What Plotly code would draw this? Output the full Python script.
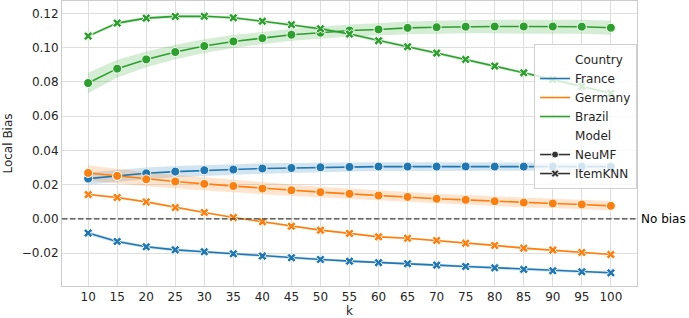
import plotly.graph_objects as go

k = [10, 15, 20, 25, 30, 35, 40, 45, 50, 55, 60, 65, 70, 75, 80, 85, 90, 95, 100]

france_neumf = [0.0235, 0.0251, 0.0266, 0.0276, 0.0284, 0.0288, 0.0294, 0.0297, 0.0301, 0.0303, 0.0305, 0.0305, 0.0305, 0.0306, 0.0305, 0.0305, 0.0305, 0.0305, 0.0305]
france_neumf_ci = [0.0035, 0.0035, 0.0034, 0.0033, 0.0032, 0.0031, 0.0030, 0.0029, 0.0028, 0.0027, 0.0026, 0.0025, 0.0025, 0.0024, 0.0024, 0.0023, 0.0023, 0.0023, 0.0023]
france_itemknn = [-0.0083, -0.0132, -0.0163, -0.0181, -0.0192, -0.0204, -0.0217, -0.0227, -0.0237, -0.0247, -0.0256, -0.0262, -0.0270, -0.0278, -0.0286, -0.0295, -0.0303, -0.0309, -0.0315]
france_itemknn_ci = [0.0011, 0.0010, 0.0009, 0.0009, 0.0008, 0.0008, 0.0008, 0.0008, 0.0008, 0.0008, 0.0008, 0.0008, 0.0008, 0.0008, 0.0008, 0.0008, 0.0008, 0.0008, 0.0008]

germany_neumf = [0.0268, 0.0251, 0.0231, 0.0218, 0.0204, 0.0192, 0.0177, 0.0167, 0.0156, 0.0146, 0.0136, 0.0128, 0.0117, 0.0111, 0.0103, 0.0095, 0.0090, 0.0084, 0.0076]
germany_neumf_ci = [0.0045, 0.0043, 0.0041, 0.0040, 0.0039, 0.0037, 0.0035, 0.0034, 0.0032, 0.0031, 0.0030, 0.0030, 0.0029, 0.0029, 0.0028, 0.0028, 0.0027, 0.0027, 0.0027]
germany_itemknn = [0.0142, 0.0125, 0.0099, 0.0066, 0.0037, 0.0008, -0.0017, -0.0043, -0.0066, -0.0085, -0.0105, -0.0113, -0.0126, -0.0142, -0.0155, -0.0171, -0.0182, -0.0196, -0.0208]
germany_itemknn_ci = [0.0007, 0.0007, 0.0006, 0.0006, 0.0006, 0.0006, 0.0006, 0.0006, 0.0006, 0.0006, 0.0006, 0.0006, 0.0006, 0.0006, 0.0006, 0.0006, 0.0006, 0.0006, 0.0006]

brazil_neumf = [0.0793, 0.0877, 0.0931, 0.0974, 0.1009, 0.1036, 0.1055, 0.1075, 0.1087, 0.1100, 0.1106, 0.1115, 0.1119, 0.1122, 0.1123, 0.1123, 0.1123, 0.1122, 0.1116]
brazil_neumf_ci = [0.0060, 0.0052, 0.0046, 0.0042, 0.0040, 0.0038, 0.0036, 0.0035, 0.0035, 0.0035, 0.0036, 0.0037, 0.0038, 0.0039, 0.0040, 0.0040, 0.0040, 0.0041, 0.0041]
brazil_itemknn = [0.1067, 0.1143, 0.1172, 0.1182, 0.1183, 0.1174, 0.1154, 0.1134, 0.1110, 0.1079, 0.1040, 0.1005, 0.0968, 0.0931, 0.0892, 0.0853, 0.0813, 0.0774, 0.0733]
brazil_itemknn_ci = [0.0010, 0.0010, 0.0009, 0.0009, 0.0009, 0.0009, 0.0009, 0.0009, 0.0009, 0.0009, 0.0009, 0.0009, 0.0009, 0.0009, 0.0009, 0.0009, 0.0009, 0.0009, 0.0009]

y_ticks = [-0.02, 0.0, 0.02, 0.04, 0.06, 0.08, 0.10, 0.12]
y_ticklabels = ["\u22120.02", "0.00", "0.02", "0.04", "0.06", "0.08", "0.10", "0.12"]

countries = ["France", "Germany", "Brazil"]
models = ["NeuMF", "ItemKNN"]
colors = {"France": "#1f77b4", "Germany": "#ff7f0e", "Brazil": "#2ca02c"}
bands = {"France": "rgba(31,119,180,0.2)", "Germany": "rgba(255,127,14,0.2)", "Brazil": "rgba(44,160,44,0.2)"}
series = {
    ("France", "NeuMF"): (france_neumf, france_neumf_ci),
    ("France", "ItemKNN"): (france_itemknn, france_itemknn_ci),
    ("Germany", "NeuMF"): (germany_neumf, germany_neumf_ci),
    ("Germany", "ItemKNN"): (germany_itemknn, germany_itemknn_ci),
    ("Brazil", "NeuMF"): (brazil_neumf, brazil_neumf_ci),
    ("Brazil", "ItemKNN"): (brazil_itemknn, brazil_itemknn_ci),
}
symbols = {"NeuMF": "circle", "ItemKNN": "x"}
sizes = {"NeuMF": 9, "ItemKNN": 8}

FONT = "DejaVu Sans"
fig = go.Figure()

# confidence bands
for (c, m), (vals, ci) in series.items():
    upper = [v + e for v, e in zip(vals, ci)]
    lower = [v - e for v, e in zip(vals, ci)]
    fig.add_trace(go.Scatter(x=k + k[::-1], y=upper + lower[::-1], fill="toself",
                             fillcolor=bands[c], line=dict(width=0), mode="lines",
                             hoverinfo="skip", showlegend=False))

# dashed zero line
fig.add_shape(type="line", xref="paper", yref="y", x0=0, x1=1, y0=0, y1=0,
              line=dict(color="#404040", width=1.4, dash="5.5px,2.5px"))

for (c, m), (vals, ci) in series.items():
    fig.add_trace(go.Scatter(x=k, y=vals, mode="lines+markers",
                             line=dict(color=colors[c], width=1.6),
                             marker=dict(symbol=symbols[m], size=sizes[m], color=colors[c],
                                         line=dict(color="white", width=1)),
                             showlegend=False))

# legend entries
def header(name):
    fig.add_trace(go.Scatter(x=[None], y=[None], mode="lines", name=name,
                             line=dict(color="rgba(0,0,0,0)", width=1.5)))

header("Country")
for c in countries:
    fig.add_trace(go.Scatter(x=[None], y=[None], mode="lines", name=c,
                             line=dict(color=colors[c], width=1.6)))
header("Model")
for m in models:
    fig.add_trace(go.Scatter(x=[None], y=[None], mode="lines+markers", name=m,
                             line=dict(color="#333333", width=1.6),
                             marker=dict(symbol=symbols[m], size=7, color="#333333",
                                         line=dict(color="white", width=1))))

fig.add_annotation(text="No bias", xref="paper", yref="y", x=1.0, y=0, xanchor="left",
                   yanchor="middle", xshift=2, showarrow=False,
                   font=dict(family=FONT, size=12, color="black"))

axis_common = dict(showgrid=True, gridcolor="#dedede", gridwidth=1, showline=True,
                   linecolor="#cccccc", linewidth=1, mirror=True, zeroline=False,
                   ticks="", tickfont=dict(family=FONT, size=12, color="#262626"))

fig.update_layout(
    width=689, height=318,
    margin=dict(l=62, r=52, t=1, b=32),
    paper_bgcolor="white", plot_bgcolor="white",
    font=dict(family=FONT, size=12, color="#262626"),
    xaxis=dict(range=[5.5, 104.5], tickmode="array", tickvals=k,
               ticktext=[str(v) for v in k],
               title=dict(text="k", font=dict(family=FONT, size=12), standoff=2),
               **axis_common),
    yaxis=dict(range=[-0.0392, 0.1272], tickmode="array",
               tickvals=y_ticks, ticktext=y_ticklabels,
               title=dict(text="Local Bias", font=dict(family=FONT, size=12), standoff=6),
               **axis_common),
    legend=dict(x=0.821, y=0.849, xanchor="left", yanchor="top",
                bgcolor="rgba(255,255,255,0.8)", bordercolor="#d0d0d0", borderwidth=1,
                font=dict(family=FONT, size=12, color="#262626"), tracegroupgap=0,
                itemwidth=30),
    showlegend=True,
)

fig.write_html("out.html", config={"displayModeBar": False},
               post_script="document.body.style.margin='0';")
